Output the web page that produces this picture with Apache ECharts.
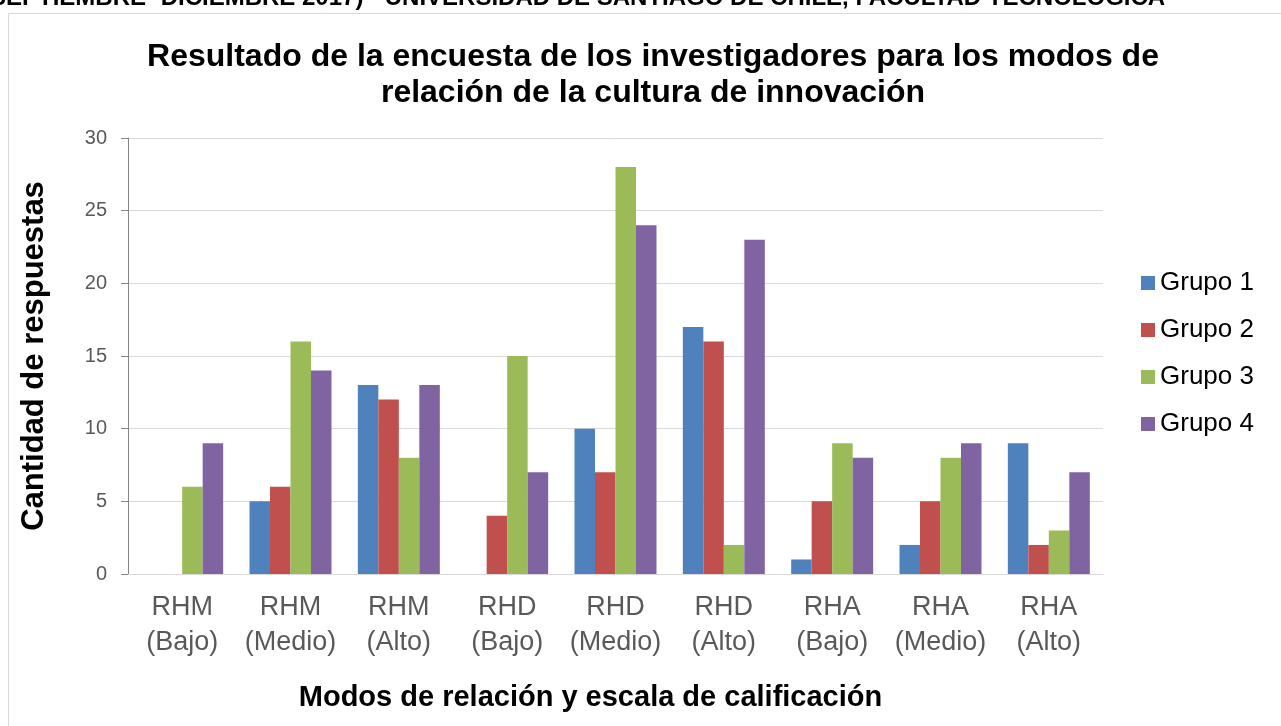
<!DOCTYPE html>
<html>
<head>
<meta charset="utf-8">
<script src="https://cdn.jsdelivr.net/npm/echarts@6/dist/echarts.min.js"></script>
<style>
  html, body { margin: 0; padding: 0; background: #fff; }
  #chart { width: 1281px; height: 726px; }
</style>
</head>
<body>
<div id="chart"></div>
<script>
const categories = ['RHM\n(Bajo)', 'RHM\n(Medio)', 'RHM\n(Alto)', 'RHD\n(Bajo)', 'RHD\n(Medio)',
    'RHD\n(Alto)', 'RHA\n(Bajo)', 'RHA\n(Medio)', 'RHA\n(Alto)'];
const grupo1 = [0, 5, 13, 0, 10, 17, 1, 2, 9];
const grupo2 = [0, 6, 12, 4, 7, 16, 5, 5, 2];
const grupo3 = [6, 16, 8, 15, 28, 2, 9, 8, 3];
const grupo4 = [9, 14, 13, 7, 24, 23, 8, 9, 7];
const seriesNames = ['Grupo 1', 'Grupo 2', 'Grupo 3', 'Grupo 4'];
const colors = ['#4F81BD', '#C0504D', '#9BBB59', '#8064A2'];

let chart = echarts.init(document.getElementById('chart'));
const font = 'Arial, "Liberation Sans", sans-serif';

let option = {
    animation: false,
    color: colors,
    textStyle: { fontFamily: font },
    title: {
        text: 'Resultado de la encuesta de los investigadores para los modos de\nrelación de la cultura de innovación',
        left: 648,
        textAlign: 'center',
        top: 34,
        textStyle: { fontSize: 32, fontWeight: 'bold', color: '#000', lineHeight: 36, fontFamily: font }
    },
    graphic: [
        {
            // frame of the chart
            type: 'rect',
            shape: { x: 8.5, y: 13.5, width: 1290, height: 730 },
            style: { fill: 'none', stroke: '#D9D9D9', lineWidth: 1 }
        },
        {
            // page header cut at the top
            type: 'text',
            left: -10,
            top: -14,
            style: {
                text: 'SEPTIEMBRE- DICIEMBRE 2017) - UNIVERSIDAD DE SANTIAGO DE CHILE, FACULTAD TECNOLÓGICA',
                font: 'bold 24px ' + font,
                fill: '#000'
            }
        }
    ],
    legend: {
        orient: 'vertical',
        left: 1136,
        top: 265,
        itemWidth: 14,
        itemHeight: 14,
        itemGap: 21,
        icon: 'rect',
        textStyle: { fontSize: 26, color: '#000', fontFamily: font }
    },
    grid: { left: 128, right: 178, top: 138, bottom: 152 },
    xAxis: {
        type: 'category',
        data: categories,
        name: 'Modos de relación y escala de calificación',
        nameLocation: 'middle',
        nameGap: 109,
        nameTextStyle: { fontSize: 29, fontWeight: 'bold', color: '#000', fontFamily: font, padding: [0, 50, 0, 0] },
        axisLine: { lineStyle: { color: '#D9D9D9' } },
        axisTick: { show: false },
        axisLabel: { interval: 0, fontSize: 27, color: '#595959', lineHeight: 35, margin: 16, fontFamily: font }
    },
    yAxis: {
        type: 'value',
        min: 0,
        max: 30,
        interval: 5,
        name: 'Cantidad de respuestas',
        nameLocation: 'middle',
        nameGap: 78,
        nameTextStyle: { fontSize: 31, fontWeight: 'bold', color: '#000', fontFamily: font },
        axisLine: { show: true, lineStyle: { color: '#868686' } },
        axisTick: { show: true, length: 7, lineStyle: { color: '#868686' } },
        axisLabel: { fontSize: 20, color: '#595959', margin: 21, fontFamily: font },
        splitLine: { lineStyle: { color: '#D9D9D9' } }
    },
    series: [grupo1, grupo2, grupo3, grupo4].map((d, i) => ({
        name: seriesNames[i],
        type: 'bar',
        data: d,
        barWidth: 20.5,
        barGap: '0%'
    }))
};

chart.setOption(option);
</script>
</body>
</html>
